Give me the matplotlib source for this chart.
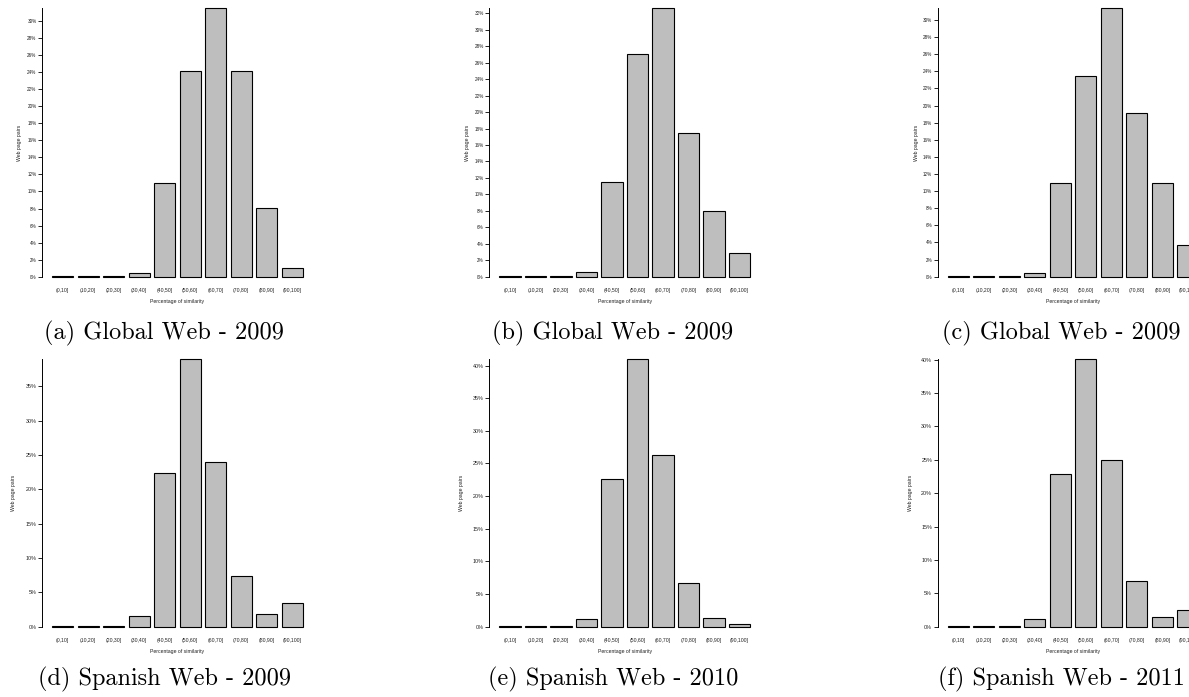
import matplotlib
matplotlib.use("Agg")
import matplotlib.pyplot as plt
import matplotlib.transforms as mtransforms

# similarity buckets shared by every histogram
buckets = ["(0,10]", "(10,20]", "(20,30]", "(30,40]", "(40,50]",
           "(50,60]", "(60,70]", "(70,80]", "(80,90]", "(90,100]"]

# percentage of web page pairs per bucket
global_a = [0.1, 0.03, 0.1, 0.43, 11.05, 24.1, 31.5, 24.1, 8.05, 1.0]
global_b = [0.05, 0.05, 0.1, 0.54, 11.45, 27.1, 32.6, 17.5, 7.96, 2.85]
global_c = [0.1, 0.03, 0.1, 0.4, 10.9, 23.5, 31.36, 19.16, 10.9, 3.67]
spanish_2009 = [0.05, 0.05, 0.1, 1.56, 22.4, 39.0, 24.06, 7.44, 1.8, 3.4]
spanish_2010 = [0.05, 0.05, 0.1, 1.23, 22.6, 41.0, 26.36, 6.7, 1.38, 0.37]
spanish_2011 = [0.05, 0.05, 0.1, 1.2, 22.8, 40.1, 24.9, 6.85, 1.45, 2.46]

captions = ["(a) Global Web - 2009", "(b) Global Web - 2009", "(c) Global Web - 2009",
            "(d) Spanish Web - 2009", "(e) Spanish Web - 2010", "(f) Spanish Web - 2011"]
tick_steps = [2, 2, 2, 5, 5, 5]
series = [global_a, global_b, global_c, spanish_2009, spanish_2010, spanish_2011]

W, H = 1189, 697
fig = plt.figure(figsize=(W / 100, H / 100), dpi=100)

sans = "Liberation Sans"
lefts = [42.0, 489.3, 937.7]
ax_w = 270.8
rows = [(8.3, 276.7), (359.0, 626.7)]          # (top, zero line) in pixels from the top
ylab_off = [22, 22, 21.5, 28, 28, 27.5]
ytick_size = [3.3, 3.3, 3.3, 3.9, 3.9, 3.9]
caption_x = [164, 613, 1061]
caption_y = [333, 679]

# barplot-style geometry: width 1, space 0.2
xs = [0.7 + 1.2 * i for i in range(len(buckets))]

for k, vals in enumerate(series):
    r, c = divmod(k, 3)
    top, zero = rows[r]
    ax = fig.add_axes([lefts[c] / W, (H - zero) / H, ax_w / W, (zero - top) / H])
    ax.bar(xs, vals, width=1.0, color="#bebebe", edgecolor="black",
           linewidth=0.8, clip_on=False)
    ymax = max(vals)
    ax.set_xlim(-0.272, 12.472)
    ax.set_ylim(0, ymax)

    for s in ["top", "right", "bottom"]:
        ax.spines[s].set_visible(False)
    ax.spines["left"].set_linewidth(0.7)

    step = tick_steps[k]
    ticks = list(range(0, int(ymax) + 1, step))
    ax.set_yticks(ticks)
    ax.set_yticklabels([f"{t}%" for t in ticks], fontsize=ytick_size[k],
                       family=sans, color="#222222")
    ax.tick_params(axis="y", length=3, width=0.6, pad=1)

    ax.set_xticks(xs)
    ax.set_xticklabels(buckets, fontsize=3.7, family=sans, color="#222222")
    ax.tick_params(axis="x", length=0, pad=8)

    xl = mtransforms.offset_copy(ax.transAxes, fig=fig, x=0, y=-24.8, units="dots")
    ax.text(0.5, 0, "Percentage of similarity", transform=xl, ha="center",
            va="center", fontsize=3.7, family=sans, color="#222222")
    yl = mtransforms.offset_copy(ax.transAxes, fig=fig, x=-ylab_off[k], y=0, units="dots")
    ax.text(0, 0.5, "Web page pairs", transform=yl, ha="center", va="center",
            rotation=90, fontsize=3.7, family=sans, color="#222222")

    fig.text(caption_x[c] / W, (H - caption_y[r]) / H, captions[k],
             ha="center", va="center", fontsize=17.5, family="cmr10")

fig.savefig("out.png", dpi=100)
